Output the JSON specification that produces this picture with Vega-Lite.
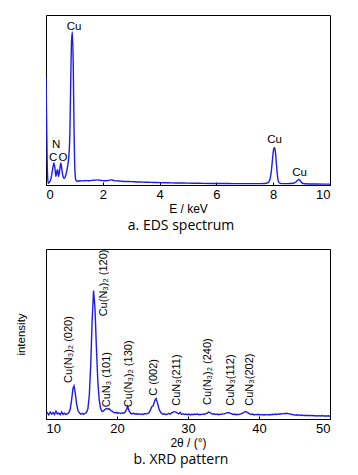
{
  "$schema": "https://vega.github.io/schema/vega-lite/v6.json",
  "background": "white",
  "padding": {"left": 14, "top": 14, "right": 5, "bottom": 5},
  "spacing": 14,
  "config": {
    "view": {"stroke": "black", "strokeWidth": 1},
    "axis": {
      "grid": false,
      "labelFont": "Liberation Sans",
      "labelFontSize": 13,
      "labelColor": "black",
      "titleFont": "Liberation Sans",
      "titleFontSize": 12,
      "titleFontWeight": "normal",
      "titleColor": "black",
      "domainColor": "black",
      "tickColor": "black",
      "tickSize": -3,
      "labelPadding": 6,
      "titlePadding": 2
    },
    "title": {"font": "Open Sans", "fontSize": 14, "fontWeight": "normal", "color": "black", "orient": "bottom", "offset": 5, "dx": -7}
  },
  "datasets": {
    "eds": [
      {"E": 0.0, "I": 63}, {"E": 0.02, "I": 40}, {"E": 0.04, "I": 15}, {"E": 0.06, "I": 4}, {"E": 0.08, "I": 1},
      {"E": 0.12, "I": 1.5}, {"E": 0.18, "I": 4}, {"E": 0.24, "I": 10}, {"E": 0.28, "I": 13}, {"E": 0.32, "I": 9},
      {"E": 0.35, "I": 5}, {"E": 0.38, "I": 8}, {"E": 0.41, "I": 9}, {"E": 0.44, "I": 5}, {"E": 0.47, "I": 7},
      {"E": 0.52, "I": 13}, {"E": 0.56, "I": 9}, {"E": 0.6, "I": 5}, {"E": 0.64, "I": 4}, {"E": 0.7, "I": 6},
      {"E": 0.76, "I": 11}, {"E": 0.8, "I": 16}, {"E": 0.84, "I": 30}, {"E": 0.87, "I": 60}, {"E": 0.9, "I": 85},
      {"E": 0.93, "I": 90}, {"E": 0.96, "I": 70}, {"E": 0.99, "I": 30}, {"E": 1.02, "I": 8}, {"E": 1.05, "I": 3},
      {"E": 1.1, "I": 2.2}, {"E": 1.2, "I": 2.5}, {"E": 1.3, "I": 2.4}, {"E": 1.4, "I": 2.6}, {"E": 1.5, "I": 2.5},
      {"E": 1.6, "I": 2.7}, {"E": 1.7, "I": 2.8}, {"E": 1.8, "I": 3.0}, {"E": 1.9, "I": 2.8}, {"E": 2.0, "I": 2.6},
      {"E": 2.1, "I": 2.5}, {"E": 2.2, "I": 2.7}, {"E": 2.3, "I": 3.0}, {"E": 2.4, "I": 2.6}, {"E": 2.5, "I": 2.4},
      {"E": 2.6, "I": 2.3}, {"E": 2.8, "I": 2.1}, {"E": 3.0, "I": 2.0}, {"E": 3.2, "I": 1.8}, {"E": 3.4, "I": 1.7},
      {"E": 3.6, "I": 1.6}, {"E": 3.8, "I": 1.5}, {"E": 4.0, "I": 1.4}, {"E": 4.3, "I": 1.3}, {"E": 4.6, "I": 1.2},
      {"E": 5.0, "I": 1.1}, {"E": 5.4, "I": 1.0}, {"E": 5.8, "I": 0.9}, {"E": 6.2, "I": 0.9}, {"E": 6.6, "I": 0.8},
      {"E": 7.0, "I": 0.8}, {"E": 7.4, "I": 0.8}, {"E": 7.7, "I": 0.9}, {"E": 7.8, "I": 1.2}, {"E": 7.88, "I": 3},
      {"E": 7.94, "I": 9}, {"E": 7.98, "I": 16}, {"E": 8.02, "I": 21.5}, {"E": 8.05, "I": 22}, {"E": 8.08, "I": 19},
      {"E": 8.12, "I": 11}, {"E": 8.16, "I": 4}, {"E": 8.2, "I": 1.5}, {"E": 8.3, "I": 0.8}, {"E": 8.5, "I": 0.8},
      {"E": 8.7, "I": 1.0}, {"E": 8.8, "I": 1.8}, {"E": 8.85, "I": 2.6}, {"E": 8.9, "I": 3.2}, {"E": 8.95, "I": 2.6},
      {"E": 9.0, "I": 1.4}, {"E": 9.1, "I": 0.7}, {"E": 9.4, "I": 0.6}, {"E": 9.8, "I": 0.5}, {"E": 10.0, "I": 0.5}
    ],
    "edsLabels": [
      {"E": 0.99, "I": 91, "label": "Cu"},
      {"E": 0.36, "I": 22, "label": "N"},
      {"E": 0.25, "I": 14, "label": "C"},
      {"E": 0.6, "I": 14, "label": "O"},
      {"E": 8.05, "I": 25, "label": "Cu"},
      {"E": 8.93, "I": 5.3, "label": "Cu"}
    ],
    "xrd": [
      {"t": 10.0, "I": 2.8}, {"t": 10.2, "I": 3.6}, {"t": 10.4, "I": 2.4}, {"t": 10.6, "I": 4.2}, {"t": 10.8, "I": 2.9},
      {"t": 11.0, "I": 3.8}, {"t": 11.2, "I": 2.6}, {"t": 11.4, "I": 4.6}, {"t": 11.6, "I": 3.0}, {"t": 11.8, "I": 3.5},
      {"t": 12.0, "I": 2.5}, {"t": 12.2, "I": 4.1}, {"t": 12.4, "I": 2.7}, {"t": 12.6, "I": 3.4}, {"t": 12.8, "I": 2.6},
      {"t": 13.0, "I": 3.2}, {"t": 13.2, "I": 3.6}, {"t": 13.4, "I": 5.5}, {"t": 13.6, "I": 11}, {"t": 13.8, "I": 18},
      {"t": 13.95, "I": 19.5}, {"t": 14.1, "I": 16}, {"t": 14.3, "I": 9}, {"t": 14.5, "I": 5}, {"t": 14.7, "I": 3.6},
      {"t": 14.9, "I": 2.8}, {"t": 15.1, "I": 3.3}, {"t": 15.3, "I": 2.7}, {"t": 15.5, "I": 3.4}, {"t": 15.7, "I": 3.8},
      {"t": 15.9, "I": 6}, {"t": 16.1, "I": 14}, {"t": 16.3, "I": 32}, {"t": 16.5, "I": 58}, {"t": 16.7, "I": 75.5},
      {"t": 16.9, "I": 65}, {"t": 17.1, "I": 42}, {"t": 17.3, "I": 22}, {"t": 17.5, "I": 11}, {"t": 17.7, "I": 6},
      {"t": 17.9, "I": 4.4}, {"t": 18.1, "I": 4.8}, {"t": 18.3, "I": 5.6}, {"t": 18.5, "I": 6.2}, {"t": 18.7, "I": 5.8},
      {"t": 18.9, "I": 6.1}, {"t": 19.1, "I": 5.0}, {"t": 19.3, "I": 4.6}, {"t": 19.5, "I": 4.0}, {"t": 19.7, "I": 3.6},
      {"t": 19.9, "I": 3.9}, {"t": 20.1, "I": 3.3}, {"t": 20.3, "I": 3.7}, {"t": 20.5, "I": 3.2}, {"t": 20.7, "I": 3.6},
      {"t": 20.9, "I": 3.4}, {"t": 21.1, "I": 3.9}, {"t": 21.3, "I": 5.2}, {"t": 21.5, "I": 7.4}, {"t": 21.7, "I": 4.8},
      {"t": 21.9, "I": 3.4}, {"t": 22.1, "I": 3.0}, {"t": 22.3, "I": 3.5}, {"t": 22.5, "I": 2.8}, {"t": 22.7, "I": 3.2},
      {"t": 22.9, "I": 2.7}, {"t": 23.1, "I": 3.1}, {"t": 23.3, "I": 2.6}, {"t": 23.5, "I": 3.0}, {"t": 23.7, "I": 2.7},
      {"t": 23.9, "I": 3.2}, {"t": 24.1, "I": 2.9}, {"t": 24.3, "I": 3.3}, {"t": 24.5, "I": 3.6}, {"t": 24.7, "I": 5.2},
      {"t": 24.9, "I": 7.2}, {"t": 25.1, "I": 7.8}, {"t": 25.3, "I": 10.5}, {"t": 25.5, "I": 12}, {"t": 25.7, "I": 9.5},
      {"t": 25.9, "I": 6.2}, {"t": 26.1, "I": 4.2}, {"t": 26.3, "I": 3.2}, {"t": 26.5, "I": 2.8}, {"t": 26.7, "I": 3.1},
      {"t": 26.9, "I": 2.5}, {"t": 27.1, "I": 2.9}, {"t": 27.3, "I": 3.3}, {"t": 27.5, "I": 2.8}, {"t": 27.7, "I": 3.6},
      {"t": 27.9, "I": 4.0}, {"t": 28.1, "I": 4.3}, {"t": 28.3, "I": 4.1}, {"t": 28.5, "I": 3.4}, {"t": 28.7, "I": 3.0},
      {"t": 28.9, "I": 3.9}, {"t": 29.1, "I": 2.7}, {"t": 29.3, "I": 3.1}, {"t": 29.5, "I": 2.6}, {"t": 29.7, "I": 2.9},
      {"t": 29.9, "I": 2.5}, {"t": 30.1, "I": 2.9}, {"t": 30.3, "I": 2.4}, {"t": 30.5, "I": 2.8}, {"t": 30.7, "I": 2.5},
      {"t": 30.9, "I": 2.9}, {"t": 31.1, "I": 2.6}, {"t": 31.3, "I": 3.0}, {"t": 31.5, "I": 2.5}, {"t": 31.7, "I": 2.8},
      {"t": 31.9, "I": 2.6}, {"t": 32.1, "I": 3.0}, {"t": 32.3, "I": 2.7}, {"t": 32.5, "I": 3.1}, {"t": 32.7, "I": 3.5},
      {"t": 32.9, "I": 4.1}, {"t": 33.1, "I": 3.8}, {"t": 33.3, "I": 3.2}, {"t": 33.5, "I": 2.8}, {"t": 33.7, "I": 3.1},
      {"t": 33.9, "I": 2.6}, {"t": 34.1, "I": 2.9}, {"t": 34.3, "I": 2.5}, {"t": 34.5, "I": 2.8}, {"t": 34.7, "I": 2.7},
      {"t": 34.9, "I": 3.0}, {"t": 35.1, "I": 3.0}, {"t": 35.3, "I": 3.3}, {"t": 35.5, "I": 3.6}, {"t": 35.7, "I": 3.8},
      {"t": 35.9, "I": 3.5}, {"t": 36.1, "I": 3.1}, {"t": 36.3, "I": 2.7}, {"t": 36.5, "I": 2.9}, {"t": 36.7, "I": 2.5},
      {"t": 36.9, "I": 2.8}, {"t": 37.1, "I": 2.6}, {"t": 37.3, "I": 2.9}, {"t": 37.5, "I": 3.1}, {"t": 37.7, "I": 3.5},
      {"t": 37.9, "I": 4.0}, {"t": 38.1, "I": 4.3}, {"t": 38.3, "I": 4.0}, {"t": 38.5, "I": 3.5}, {"t": 38.7, "I": 3.0},
      {"t": 38.9, "I": 2.7}, {"t": 39.1, "I": 2.9}, {"t": 39.3, "I": 2.4}, {"t": 39.5, "I": 2.7}, {"t": 39.7, "I": 2.5},
      {"t": 39.9, "I": 2.8}, {"t": 40.1, "I": 2.4}, {"t": 40.3, "I": 2.7}, {"t": 40.5, "I": 2.3}, {"t": 40.7, "I": 2.6},
      {"t": 40.9, "I": 2.4}, {"t": 41.1, "I": 2.7}, {"t": 41.3, "I": 2.3}, {"t": 41.5, "I": 2.6}, {"t": 41.7, "I": 2.5},
      {"t": 41.9, "I": 2.8}, {"t": 42.1, "I": 2.6}, {"t": 42.3, "I": 2.9}, {"t": 42.5, "I": 2.7}, {"t": 42.7, "I": 3.0},
      {"t": 42.9, "I": 2.8}, {"t": 43.1, "I": 3.1}, {"t": 43.3, "I": 3.0}, {"t": 43.5, "I": 3.3}, {"t": 43.7, "I": 3.1},
      {"t": 43.9, "I": 3.4}, {"t": 44.1, "I": 3.2}, {"t": 44.3, "I": 3.0}, {"t": 44.5, "I": 2.8}, {"t": 44.7, "I": 2.6},
      {"t": 44.9, "I": 2.5}, {"t": 45.1, "I": 2.3}, {"t": 45.3, "I": 2.5}, {"t": 45.5, "I": 2.2}, {"t": 45.7, "I": 2.4},
      {"t": 45.9, "I": 2.1}, {"t": 46.1, "I": 2.3}, {"t": 46.3, "I": 2.0}, {"t": 46.5, "I": 2.2}, {"t": 46.7, "I": 2.0},
      {"t": 46.9, "I": 2.2}, {"t": 47.1, "I": 1.9}, {"t": 47.3, "I": 2.1}, {"t": 47.5, "I": 1.9}, {"t": 47.7, "I": 2.1},
      {"t": 47.9, "I": 1.8}, {"t": 48.1, "I": 2.0}, {"t": 48.3, "I": 1.8}, {"t": 48.5, "I": 2.0}, {"t": 48.7, "I": 1.8},
      {"t": 48.9, "I": 2.0}, {"t": 49.1, "I": 1.7}, {"t": 49.3, "I": 1.9}, {"t": 49.5, "I": 1.7}, {"t": 49.7, "I": 1.9},
      {"t": 49.9, "I": 1.8}, {"t": 50.0, "I": 1.8}
    ],
    "xrdLabels": [
      {"t": 13.29, "I": 21.2, "label": "Cu(N₃)₂ (020)"},
      {"t": 18.13, "I": 60.4, "label": "Cu(N₃)₂ (120)"},
      {"t": 18.6, "I": 6.9, "label": "CuN₃ (101)"},
      {"t": 21.75, "I": 6.9, "label": "Cu(N₃)₂ (130)"},
      {"t": 25.28, "I": 13.7, "label": "C (002)"},
      {"t": 28.47, "I": 7.8, "label": "CuN₃(211)"},
      {"t": 32.8, "I": 8.2, "label": "Cu(N₃)₂ (240)"},
      {"t": 36.0, "I": 7.8, "label": "CuN₃(112)"},
      {"t": 38.8, "I": 7.8, "label": "CuN₃(202)"}
    ]
  },
  "vconcat": [
    {
      "width": 284,
      "height": 170,
      "title": {"text": "a.  EDS spectrum"},
      "layer": [
        {
          "data": {"name": "eds"},
          "mark": {"type": "line", "color": "#1c1ce6", "strokeWidth": 1.4, "interpolate": "monotone", "clip": true},
          "encoding": {
            "x": {"field": "E", "type": "quantitative", "scale": {"domain": [0, 10], "nice": false},
                  "axis": {"title": "E / keV", "values": [0, 1, 2, 3, 4, 5, 6, 7, 8, 9, 10],
                           "labelExpr": "datum.value % 2 === 0 ? datum.label : ''"}},
            "y": {"field": "I", "type": "quantitative", "scale": {"domain": [0, 100], "nice": false}, "axis": null}
          }
        },
        {
          "data": {"name": "edsLabels"},
          "mark": {"type": "text", "font": "Liberation Sans", "fontSize": 11.5, "baseline": "alphabetic", "color": "black"},
          "encoding": {
            "x": {"field": "E", "type": "quantitative"},
            "y": {"field": "I", "type": "quantitative"},
            "text": {"field": "label"}
          }
        }
      ]
    },
    {
      "width": 284,
      "height": 170,
      "title": {"text": "b.  XRD pattern"},
      "layer": [
        {
          "data": {"name": "xrd"},
          "mark": {"type": "line", "color": "#1c1ce6", "strokeWidth": 1.4, "clip": true},
          "encoding": {
            "x": {"field": "t", "type": "quantitative", "scale": {"domain": [10, 50], "nice": false},
                  "axis": {"title": "2θ / (°)", "values": [10, 15, 20, 25, 30, 35, 40, 45, 50],
                           "labelExpr": "datum.value % 10 === 0 ? datum.label : ''"}},
            "y": {"field": "I", "type": "quantitative", "scale": {"domain": [0, 100], "nice": false},
                  "axis": {"title": "intensity", "labels": false, "ticks": false, "domain": false, "titlePadding": 20, "titleFontSize": 11.5}}
          }
        },
        {
          "data": {"name": "xrdLabels"},
          "mark": {"type": "text", "font": "Liberation Sans", "fontSize": 11, "angle": 270, "align": "left", "baseline": "middle", "color": "black"},
          "encoding": {
            "x": {"field": "t", "type": "quantitative"},
            "y": {"field": "I", "type": "quantitative"},
            "text": {"field": "label"}
          }
        }
      ]
    }
  ]
}
